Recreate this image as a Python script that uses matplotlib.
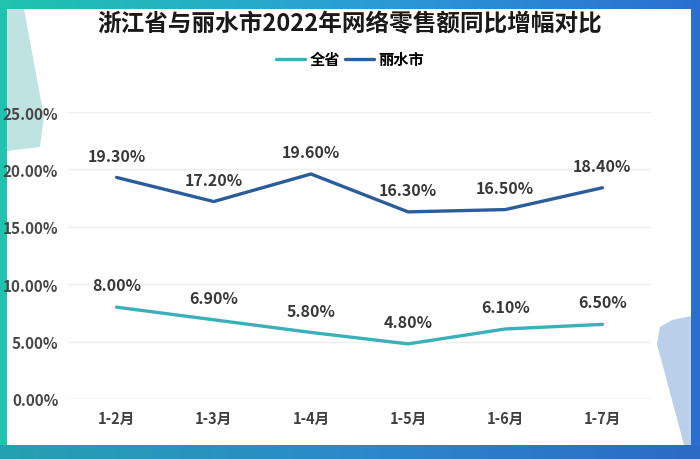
"""
Line chart: Zhejiang vs Lishui online retail YoY growth, 2022.
"""

import matplotlib.pyplot as plt
from matplotlib.patches import Rectangle, Polygon
from matplotlib.colors import LinearSegmentedColormap
import numpy as np

plt.rcParams['font.family'] = ['Noto Sans CJK SC', 'DejaVu Sans']

months = ['1-2月', '1-3月', '1-4月', '1-5月', '1-6月', '1-7月']
province = [8.0, 6.9, 5.8, 4.8, 6.1, 6.5]
lishui = [19.3, 17.2, 19.6, 16.3, 16.5, 18.4]
y_ticks = [0, 5, 10, 15, 20, 25]

W, H = 700, 460
fig = plt.figure(figsize=(7, 4.6), dpi=100)

# background gradient frame
bg = fig.add_axes([0, 0, 1, 1], zorder=0)
grad = np.linspace(0, 1, 256).reshape(1, -1)
cmap = LinearSegmentedColormap.from_list('frame', ['#1fc4ae', '#2a9fd6', '#2a6fd0'])
bg.imshow(grad, aspect='auto', cmap=cmap, extent=[0, W, 0, H])
bg.set_xlim(0, W)
bg.set_ylim(H, 0)
bg.axis('off')

# white panel + decorative shapes (pixel coords, y down)
bg.add_patch(Rectangle((7, 10), 684, 436, facecolor='white', edgecolor='none'))
bg.add_patch(Polygon([(7, 10), (24, 10), (44, 118), (40, 148), (7, 152)],
                     closed=True, facecolor='#a9dad6', edgecolor='none', alpha=0.75))
bg.add_patch(Polygon([(657, 345), (660, 328), (672, 321), (691, 317), (691, 446),
                      (684, 446)],
                     closed=True, facecolor='#b9cfea', edgecolor='none'))
bg.add_patch(Rectangle((0, 446), W, 14, facecolor='#2f62b5', edgecolor='none', alpha=0.35))

ax = fig.add_axes([68 / W, 1 - 400 / H, (651 - 68) / W, (400 - 113) / H], zorder=1)
ax.patch.set_alpha(0)

x = np.arange(len(months))
c_prov = '#3bb0b8'
c_ls = '#2b5d9b'
ax.plot(x, province, color=c_prov, linewidth=2.4, label='全省', solid_capstyle='round')
ax.plot(x, lishui, color=c_ls, linewidth=2.4, label='丽水市', solid_capstyle='round')

for xi, v in zip(x, province):
    ax.annotate(f'{v:.2f}%', (xi, v), xytext=(0, 10), textcoords='offset points',
                ha='center', va='bottom', fontsize=11.5, fontweight='bold', color='#383838')
for xi, v in zip(x, lishui):
    ax.annotate(f'{v:.2f}%', (xi, v), xytext=(0, 10), textcoords='offset points',
                ha='center', va='bottom', fontsize=11.5, fontweight='bold', color='#383838')

ax.set_xlim(-0.5, 5.5)
ax.set_ylim(0, 25)
ax.set_yticks(y_ticks)
ax.set_yticklabels([f'{t:.2f}%' for t in y_ticks], fontweight='bold')
ax.set_xticks(x)
ax.set_xticklabels(months, fontweight='bold')
ax.tick_params(axis='y', length=0, labelsize=11, colors='#474747', pad=7)
ax.tick_params(axis='x', length=0, labelsize=10.5, colors='#404040', pad=8)
ax.grid(axis='y', color='#eeeeee', linewidth=1)
ax.axhline(0, color='#d9d9d9', linewidth=1)
for s in ax.spines.values():
    s.set_visible(False)

fig.text(0.5, 1 - 24 / H, '浙江省与丽水市2022年网络零售额同比增幅对比', ha='center', va='center',
         fontsize=17, fontweight='heavy', color='#1a1a1a')
fig.legend(loc='center', bbox_to_anchor=(0.5, 1 - 60 / H), ncol=2, frameon=False,
           handlelength=1.9, columnspacing=0.3, handletextpad=0.3,
           prop={'weight': 'bold', 'size': 11})

fig.savefig('out.png', dpi=100)
